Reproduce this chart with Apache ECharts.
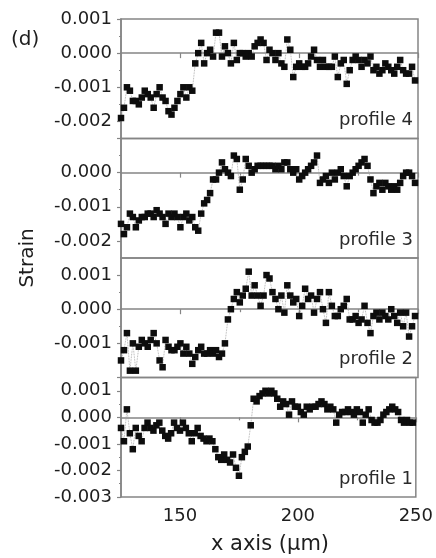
<!DOCTYPE html>
<html>
<head>
<meta charset="utf-8">
<script src="https://cdn.jsdelivr.net/npm/echarts@6/dist/echarts.min.js"></script>
<style>
  html, body { margin: 0; padding: 0; background: #fff; }
  #chart { width: 436px; height: 558px; }
</style>
</head>
<body>
<div id="chart"></div>
<script>
// Sampling positions along the scan line (µm)
const xPositions = [
  125,126.25,127.5,128.75,130,131.25,132.5,133.75,135,136.25,
  137.5,138.75,140,141.25,142.5,143.75,145,146.25,147.5,148.75,
  150,151.25,152.5,153.75,155,156.25,157.5,158.75,160,161.25,
  162.5,163.75,165,166.25,167.5,168.75,170,171.25,172.5,173.75,
  175,176.25,177.5,178.75,180,181.25,182.5,183.75,185,186.25,
  187.5,188.75,190,191.25,192.5,193.75,195,196.25,197.5,198.75,
  200,201.25,202.5,203.75,205,206.25,207.5,208.75,210,211.25,
  212.5,213.75,215,216.25,217.5,218.75,220,221.25,222.5,223.75,
  225,226.25,227.5,228.75,230,231.25,232.5,233.75,235,236.25,
  237.5,238.75,240,241.25,242.5,243.75,245,246.25,247.5,248.75
];

// Strain along each profile
const profile4 = [
  -0.0019,-0.0016,-0.0010,-0.0011,-0.0014,-0.0014,-0.0015,-0.0013,-0.0011,-0.0012,
  -0.0013,-0.0016,-0.0012,-0.0010,-0.0013,-0.0014,-0.0017,-0.0018,-0.0016,-0.0014,
  -0.0012,-0.0010,-0.0013,-0.0010,-0.0011,-0.0003,0.0000,0.0003,-0.0003,0.0000,
  0.0001,-0.0001,0.0006,0.0006,-0.0001,0.0002,0.0000,-0.0003,0.0003,-0.0002,
  0.0000,0.0000,-0.0001,0.0000,-0.0001,0.0002,0.0003,0.0004,0.0003,-0.0002,
  0.0001,0.0000,-0.0002,0.0000,-0.0003,-0.0004,0.0004,0.0001,-0.0007,-0.0004,
  -0.0003,-0.0004,-0.0004,-0.0003,-0.0001,0.0001,-0.0002,-0.0004,-0.0002,-0.0004,
  -0.0004,-0.0004,-0.0001,-0.0007,-0.0003,-0.0002,-0.0009,-0.0005,-0.0002,-0.0001,
  -0.0002,-0.0004,-0.0002,-0.0003,-0.0001,-0.0005,-0.0004,-0.0006,-0.0005,-0.0003,
  -0.0004,-0.0005,-0.0006,-0.0004,-0.0002,-0.0005,-0.0006,-0.0006,-0.0004,-0.0008
];
const profile3 = [
  -0.0015,-0.0018,-0.0016,-0.0012,-0.0013,-0.0016,-0.0014,-0.0013,-0.0013,-0.0012,
  -0.0012,-0.0013,-0.0011,-0.0012,-0.0013,-0.0015,-0.0012,-0.0013,-0.0012,-0.0013,
  -0.0016,-0.0013,-0.0012,-0.0014,-0.0013,-0.0016,-0.0017,-0.0012,-0.0009,-0.0008,
  -0.0006,-0.0002,-0.0002,0.0000,0.0003,0.0001,0.0000,-0.0001,0.0005,0.0004,
  -0.0005,-0.0002,0.0004,0.0002,0.0000,0.0001,0.0002,0.0002,0.0002,0.0002,
  0.0002,0.0002,0.0001,0.0002,0.0001,0.0003,0.0003,0.0001,0.0000,0.0001,
  -0.0002,-0.0001,0.0000,0.0001,0.0002,0.0003,0.0005,-0.0003,-0.0002,-0.0001,
  -0.0003,0.0000,-0.0002,0.0000,0.0001,-0.0001,-0.0004,-0.0001,0.0000,0.0001,
  0.0002,0.0003,0.0004,0.0002,-0.0002,-0.0006,-0.0004,-0.0003,-0.0005,-0.0003,
  -0.0004,-0.0005,-0.0004,-0.0005,-0.0003,-0.0001,0.0000,0.0000,-0.0001,-0.0003
];
const profile2 = [
  -0.0015,-0.0012,-0.0007,-0.0018,-0.0010,-0.0018,-0.0011,-0.0009,-0.0010,-0.0011,
  -0.0009,-0.0007,-0.0010,-0.0015,-0.0017,-0.0009,-0.0011,-0.0012,-0.0012,-0.0011,
  -0.0010,-0.0013,-0.0011,-0.0013,-0.0016,-0.0014,-0.0012,-0.0011,-0.0013,-0.0013,
  -0.0012,-0.0013,-0.0012,-0.0014,-0.0013,-0.0010,-0.0003,0.0000,0.0003,0.0005,
  0.0002,0.0004,0.0006,0.0011,0.0004,0.0007,0.0004,0.0001,0.0004,0.0010,
  0.0009,0.0005,0.0003,0.0000,0.0004,-0.0001,0.0007,0.0004,0.0002,0.0003,
  -0.0002,0.0001,0.0006,0.0003,0.0004,-0.0001,0.0003,0.0005,0.0000,-0.0004,
  0.0005,0.0001,-0.0002,-0.0002,0.0000,0.0001,0.0003,-0.0003,-0.0003,-0.0002,
  -0.0004,-0.0003,0.0001,-0.0004,-0.0007,-0.0002,-0.0001,-0.0003,-0.0001,-0.0002,
  -0.0003,0.0000,-0.0002,-0.0004,-0.0001,-0.0005,-0.0001,-0.0008,-0.0005,-0.0002
];
const profile1 = [
  -0.0004,-0.0009,0.0003,-0.0006,-0.0012,-0.0004,-0.0007,-0.0009,-0.0004,-0.0002,
  -0.0004,-0.0005,-0.0003,-0.0002,-0.0005,-0.0007,-0.0008,-0.0006,-0.0002,-0.0004,
  -0.0005,-0.0002,-0.0004,-0.0006,-0.0009,-0.0006,-0.0004,-0.0007,-0.0008,-0.0009,
  -0.0008,-0.0009,-0.0012,-0.0015,-0.0016,-0.0014,-0.0016,-0.0017,-0.0014,-0.0019,
  -0.0022,-0.0015,-0.0013,-0.0011,-0.0003,0.0007,0.0006,0.0008,0.0009,0.0010,
  0.0009,0.0010,0.0009,0.0007,0.0004,0.0006,0.0005,0.0001,0.0006,0.0004,
  0.0004,0.0002,0.0001,0.0004,0.0003,0.0004,0.0004,0.0005,0.0006,0.0005,
  0.0003,0.0004,0.0003,-0.0002,0.0001,0.0002,0.0002,0.0003,0.0002,0.0001,
  0.0003,0.0002,-0.0002,0.0001,0.0003,-0.0001,-0.0002,-0.0002,-0.0001,0.0001,
  0.0002,0.0003,0.0004,0.0003,0.0002,-0.0001,-0.0002,-0.0001,-0.0002,-0.0002
];

// Axis ranges and tick values
const xMin = 125, xMax = 250;
const xMajorTicks = [150, 200, 250];
const xMinorTicks = [175, 225];
const xTickLabels = [150, 200, 250];

const profileNames = ['profile 4', 'profile 3', 'profile 2', 'profile 1'];
const profileValues = [profile4, profile3, profile2, profile1];
const yMins = [-0.0025, -0.0025, -0.002, -0.003];
const yMaxs = [0.001, 0.001, 0.0015, 0.0015];
const yMajorTicks = [
  [-0.002, -0.001, 0, 0.001],
  [-0.002, -0.001, 0, 0.001],
  [-0.002, -0.001, 0, 0.001],
  [-0.003, -0.002, -0.001, 0, 0.001]
];
const yMinorTicks = [
  [-0.0015, -0.0005, 0.0005],
  [-0.0015, -0.0005, 0.0005],
  [-0.0015, -0.0005, 0.0005],
  [-0.0025, -0.0015, -0.0005, 0.0005]
];
const yTickLabels = [
  [-0.002, -0.001, 0, 0.001],
  [-0.002, -0.001, 0],
  [-0.001, 0, 0.001],
  [-0.003, -0.002, -0.001, 0, 0.001]
];

const FONT = 'DejaVu Sans';
const AXIS_COLOR = '#858585';
const TEXT_COLOR = '#1e1e1e';

const plotLeft = 121, plotWidth = 297;
const panelTop = 19, panelHeight = 119.5;

const grids = [], xAxes = [], yAxes = [], series = [], graphics = [];

profileNames.forEach((name, i) => {
  const top = panelTop + i * panelHeight;
  const isBottom = i === profileNames.length - 1;
  grids.push({
    left: plotLeft, width: plotWidth, top: top, height: panelHeight,
    show: true, borderColor: AXIS_COLOR, borderWidth: 1.5, backgroundColor: 'transparent'
  });

  // x axis with major ticks (and labels on the lowest panel)
  xAxes.push({
    type: 'value', gridIndex: i, position: 'bottom', min: xMin, max: xMax,
    axisLine: { show: true, lineStyle: { color: AXIS_COLOR, width: 1.5 } },
    axisTick: { show: true, customValues: xMajorTicks, length: 5, lineStyle: { color: AXIS_COLOR, width: 1.2 } },
    axisLabel: {
      show: isBottom, customValues: xTickLabels, margin: 10,
      fontFamily: FONT, fontSize: 18, color: TEXT_COLOR
    },
    splitLine: { show: false }
  });
  // x axis carrying the minor ticks only
  xAxes.push({
    type: 'value', gridIndex: i, position: 'bottom', min: xMin, max: xMax,
    axisLine: { show: false },
    axisTick: { show: true, customValues: xMinorTicks, length: 3, lineStyle: { color: AXIS_COLOR, width: 1.2 } },
    axisLabel: { show: false },
    splitLine: { show: false }
  });

  // y axis with major ticks and labels
  yAxes.push({
    type: 'value', gridIndex: i, position: 'left', min: yMins[i], max: yMaxs[i],
    axisLine: { show: true, lineStyle: { color: AXIS_COLOR, width: 1.5 } },
    axisTick: { show: true, customValues: yMajorTicks[i], length: 4, lineStyle: { color: AXIS_COLOR, width: 1.2 } },
    axisLabel: {
      show: true, customValues: yTickLabels[i], margin: 9,
      fontFamily: FONT, fontSize: 18, color: TEXT_COLOR,
      formatter: v => Number(v).toFixed(3)
    },
    splitLine: { show: false }
  });
  // y axis carrying the minor ticks only
  yAxes.push({
    type: 'value', gridIndex: i, position: 'left', min: yMins[i], max: yMaxs[i],
    axisLine: { show: false },
    axisTick: { show: true, customValues: yMinorTicks[i], length: 2, lineStyle: { color: AXIS_COLOR, width: 1.2 } },
    axisLabel: { show: false },
    splitLine: { show: false }
  });

  const values = profileValues[i];
  series.push({
    name: name,
    type: 'line',
    xAxisIndex: 2 * i,
    yAxisIndex: 2 * i,
    data: xPositions.map((x, k) => [x, values[k]]),
    symbol: 'rect',
    symbolSize: 6.5,
    showSymbol: true,
    showAllSymbol: true,
    clip: false,
    itemStyle: { color: '#0d0d0d' },
    lineStyle: { color: '#9a9a9a', width: 0.8, type: 'dotted' },
    emphasis: { disabled: true }
  });

  graphics.push({
    type: 'text', right: 23, top: top + panelHeight - 27,
    style: { text: name, fontFamily: FONT, fontSize: 18, fill: '#2a2a2a' }
  });
});

graphics.push(
  { type: 'text', left: 11, top: 30,
    style: { text: '(d)', fontFamily: FONT, fontSize: 20, fill: TEXT_COLOR } },
  { type: 'text', x: 28, y: 258, rotation: Math.PI / 2,
    style: { text: 'Strain', fontFamily: FONT, fontSize: 20, fill: TEXT_COLOR,
             textAlign: 'center', textVerticalAlign: 'middle' } },
  { type: 'text', x: 270, y: 545,
    style: { text: 'x axis (\u03bcm)', fontFamily: FONT, fontSize: 21, fill: TEXT_COLOR,
             textAlign: 'center', textVerticalAlign: 'middle' } }
);

const chart = echarts.init(document.getElementById('chart'), null, { renderer: 'canvas' });
chart.setOption({
  backgroundColor: '#fff',
  animation: false,
  grid: grids,
  xAxis: xAxes,
  yAxis: yAxes,
  series: series,
  graphic: graphics
});
</script>
</body>
</html>
